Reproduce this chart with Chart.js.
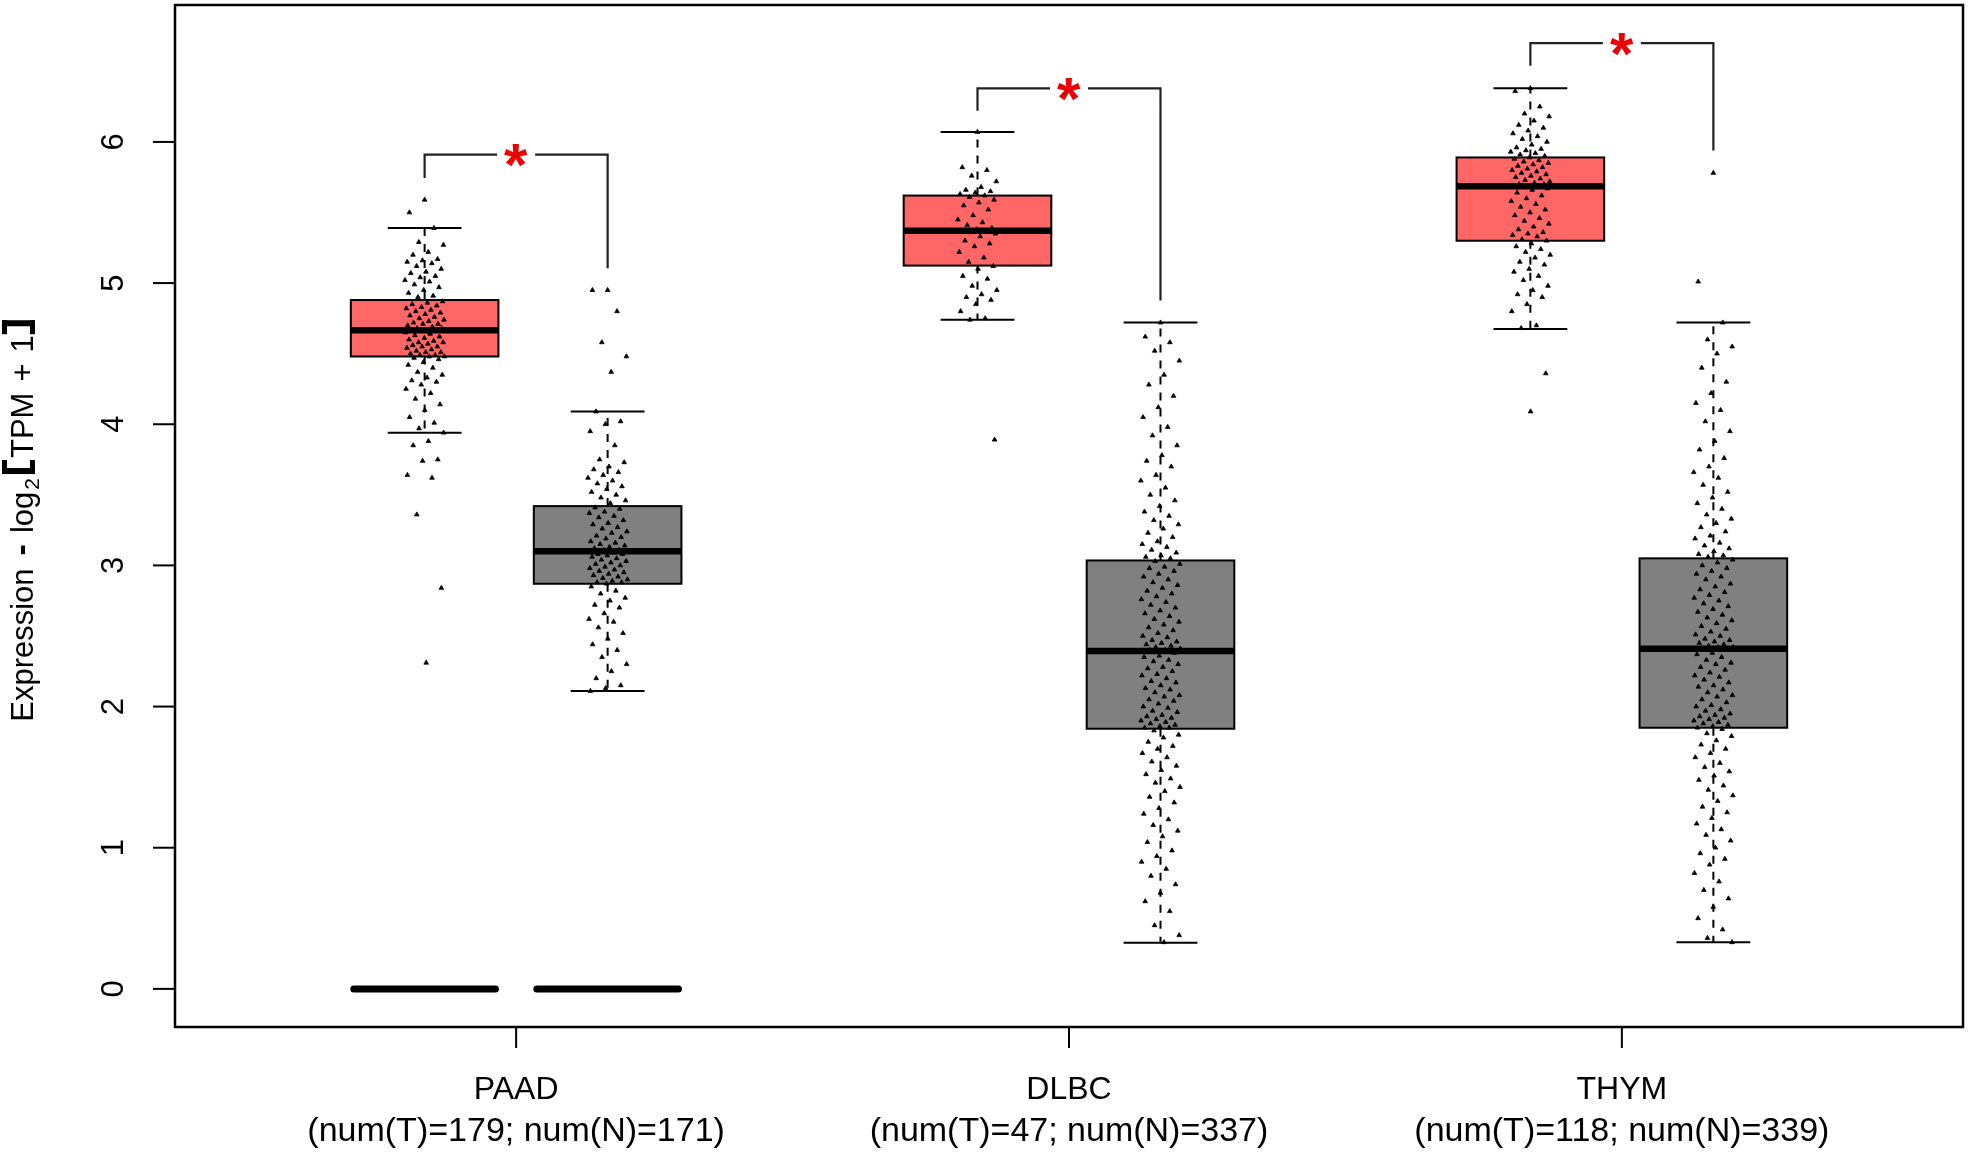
<!DOCTYPE html>
<html>
<head>
<meta charset="utf-8">
<script src="https://cdn.jsdelivr.net/npm/chart.js@4.4.1/dist/chart.umd.min.js"></script>
<style>
  html, body { margin: 0; padding: 0; background: #fff; }
  canvas { display: block; }
</style>
</head>
<body>
<canvas id="boxChart" width="1969" height="1154"></canvas>
<script>
// categories and sample sizes
const cancers = ['PAAD', 'DLBC', 'THYM'];
const numT = [179, 47, 118];
const numN = [171, 337, 339];

// box stats: [lower whisker, Q1, median, Q3, upper whisker]
const tumorStats = [
    [3.94, 4.48, 4.665, 4.88, 5.39],
    [4.74, 5.124, 5.37, 5.62, 6.07],
    [4.675, 5.30, 5.686, 5.89, 6.38],
];
const normalStats = [
    [2.11, 2.87, 3.10, 3.42, 4.09],
    [0.327, 1.843, 2.394, 3.035, 4.72],
    [0.33, 1.85, 2.41, 3.05, 4.72],
];

// the flat boxes sitting at 0 under PAAD
const zeroT = [0, null, null];
const zeroN = [0, null, null];

// significance brackets (y values)
const bracketTop = [5.91, 6.38, 6.70];
const bracketLegT = [5.745, 6.22, 6.54];
const bracketLegN = [5.105, 4.876, 5.94];

const yTicks = [0, 1, 2, 3, 4, 5, 6];

// jittered sample points
const paadT = [5.59, 5.50, 5.39, 5.29, 5.27, 5.22, 5.20, 5.17, 5.16, 5.15, 5.14, 5.12, 5.10, 5.08, 5.07, 5.05, 5.04, 5.02, 5.01, 4.99, 4.97, 4.95, 4.93, 4.91, 4.90,
    4.87, 4.86, 4.85, 4.84, 4.83, 4.82, 4.81, 4.80, 4.79, 4.78, 4.77, 4.76, 4.75, 4.74, 4.73, 4.72, 4.71, 4.71, 4.70, 4.69, 4.68, 4.68, 4.67, 4.67, 4.66,
    4.66, 4.65, 4.64, 4.63, 4.62, 4.61, 4.60, 4.59, 4.58, 4.58, 4.57, 4.56, 4.55, 4.55, 4.54, 4.53, 4.52, 4.51, 4.51, 4.50, 4.49, 4.49, 4.48, 4.48, 4.47,
    4.46, 4.44, 4.42, 4.40, 4.37, 4.35, 4.33, 4.31, 4.30, 4.28, 4.25, 4.22, 4.18, 4.14, 4.10, 4.05, 4.01, 3.97, 3.94, 3.88, 3.85, 3.75, 3.74, 3.64, 3.62, 3.36, 2.84, 2.31];
const paadN = [4.95, 4.95, 4.80, 4.58, 4.48, 4.37, 4.09, 4.02, 4.00, 3.95, 3.85, 3.75, 3.73, 3.70, 3.68, 3.66, 3.64, 3.62, 3.60, 3.58, 3.56, 3.54, 3.52, 3.50, 3.48, 3.46, 3.44,
    3.41, 3.40, 3.38, 3.37, 3.35, 3.34, 3.32, 3.30, 3.29, 3.27, 3.26, 3.24, 3.23, 3.21, 3.20, 3.19, 3.17, 3.16, 3.15, 3.14, 3.13, 3.12, 3.11, 3.11, 3.10,
    3.09, 3.08, 3.08, 3.07, 3.06, 3.05, 3.04, 3.03, 3.02, 3.01, 3.00, 2.99, 2.98, 2.97, 2.96, 2.95, 2.94, 2.93, 2.92, 2.91, 2.90, 2.89, 2.88, 2.88, 2.87,
    2.85, 2.82, 2.80, 2.77, 2.75, 2.72, 2.70, 2.66, 2.62, 2.60, 2.56, 2.52, 2.48, 2.44, 2.40, 2.35, 2.30, 2.25, 2.20, 2.15, 2.13, 2.11];
const dlbcT = [6.07, 5.82, 5.80, 5.76, 5.72, 5.68, 5.66, 5.65, 5.64, 5.63, 5.62, 5.61, 5.59, 5.57, 5.55, 5.52, 5.48, 5.45, 5.43, 5.41, 5.39, 5.38, 5.37, 5.37,
    5.36, 5.35, 5.33, 5.30, 5.28, 5.26, 5.22, 5.18, 5.15, 5.12, 5.10, 5.05, 5.03, 4.98, 4.95, 4.92, 4.90, 4.88, 4.85, 4.80, 4.75, 4.74, 3.89];
const dlbcN = [4.72, 4.62, 4.58, 4.52, 4.45, 4.35, 4.28, 4.20, 4.12, 4.05, 3.98, 3.92, 3.85, 3.78, 3.74, 3.70, 3.64, 3.60, 3.55, 3.50, 3.46, 3.42, 3.38, 3.35, 3.32, 3.29, 3.26, 3.23, 3.20, 3.17, 3.15, 3.13, 3.11, 3.09, 3.07, 3.06, 3.05,
    3.03, 3.01, 2.99, 2.98, 2.96, 2.94, 2.92, 2.90, 2.88, 2.86, 2.84, 2.82, 2.80, 2.78, 2.76, 2.74, 2.72, 2.70, 2.68, 2.66, 2.64, 2.62, 2.60, 2.58, 2.56, 2.54, 2.52, 2.50, 2.49, 2.47, 2.46, 2.45, 2.44, 2.43, 2.42, 2.41, 2.40, 2.40,
    2.38, 2.36, 2.35, 2.33, 2.32, 2.30, 2.28, 2.27, 2.25, 2.23, 2.22, 2.20, 2.18, 2.17, 2.15, 2.13, 2.12, 2.10, 2.08, 2.07, 2.05, 2.04, 2.02, 2.00, 1.99, 1.97, 1.96, 1.94, 1.93, 1.92, 1.91, 1.90, 1.89, 1.88, 1.87, 1.86, 1.85, 1.85,
    1.83, 1.80, 1.78, 1.75, 1.72, 1.70, 1.67, 1.64, 1.61, 1.58, 1.55, 1.52, 1.49, 1.46, 1.43, 1.40, 1.36, 1.32, 1.28, 1.24, 1.20, 1.16, 1.12, 1.08, 1.04, 0.98, 0.94, 0.90, 0.85, 0.80, 0.74, 0.68, 0.62, 0.55, 0.45, 0.38, 0.33];
const thymT = [6.38, 6.36, 6.25, 6.20, 6.18, 6.15, 6.12, 6.10, 6.08, 6.06, 6.04, 6.02, 6.00, 5.98, 5.96, 5.95, 5.94, 5.93, 5.92, 5.91, 5.90, 5.89,
    5.88, 5.87, 5.86, 5.85, 5.84, 5.83, 5.82, 5.81, 5.80, 5.79, 5.78, 5.77, 5.76, 5.75, 5.74, 5.73, 5.72, 5.71, 5.70, 5.70, 5.69, 5.69, 5.69,
    5.68, 5.67, 5.66, 5.64, 5.62, 5.60, 5.58, 5.56, 5.54, 5.52, 5.50, 5.48, 5.46, 5.44, 5.42, 5.40, 5.38, 5.36, 5.35, 5.34, 5.33, 5.31, 5.30,
    5.28, 5.26, 5.24, 5.22, 5.20, 5.18, 5.15, 5.13, 5.10, 5.08, 5.05, 5.02, 4.98, 4.95, 4.92, 4.90, 4.85, 4.80, 4.70, 4.68, 4.36, 4.09];
const thymN = [5.78, 5.01, 4.72, 4.60, 4.55, 4.50, 4.40, 4.30, 4.22, 4.15, 4.10, 4.02, 3.95, 3.88, 3.82, 3.76, 3.70, 3.66, 3.62, 3.57, 3.52, 3.48, 3.44, 3.40, 3.36, 3.33, 3.30, 3.27, 3.24, 3.21, 3.19, 3.16, 3.14, 3.12, 3.10, 3.08, 3.07, 3.06,
    3.04, 3.02, 3.00, 2.98, 2.96, 2.94, 2.92, 2.90, 2.87, 2.85, 2.83, 2.81, 2.79, 2.77, 2.75, 2.73, 2.71, 2.69, 2.67, 2.65, 2.63, 2.61, 2.59, 2.57, 2.55, 2.53, 2.51, 2.50, 2.48, 2.47, 2.46, 2.45, 2.44, 2.43, 2.42, 2.42, 2.41,
    2.40, 2.38, 2.37, 2.35, 2.33, 2.31, 2.30, 2.28, 2.26, 2.24, 2.22, 2.21, 2.19, 2.17, 2.15, 2.14, 2.12, 2.10, 2.08, 2.07, 2.05, 2.03, 2.01, 2.00, 1.98, 1.97, 1.95, 1.94, 1.93, 1.92, 1.91, 1.90, 1.89, 1.88, 1.87, 1.86, 1.85,
    1.84, 1.81, 1.79, 1.76, 1.73, 1.70, 1.67, 1.64, 1.60, 1.57, 1.54, 1.51, 1.48, 1.44, 1.41, 1.37, 1.33, 1.29, 1.25, 1.21, 1.17, 1.13, 1.09, 1.05, 1.00, 0.96, 0.92, 0.88, 0.82, 0.76, 0.70, 0.64, 0.58, 0.50, 0.42, 0.36, 0.33];

const tumorPoints = [paadT, dlbcT, thymT];
const normalPoints = [paadN, dlbcN, thymN];

// layout in x units (groups sit at 1, 2, 3)
const OFFSET = 0.1655;
const BOX_W = 0.267;
const JIT = 0.036;
const FONT = '"Liberation Sans", Arial, Helvetica, sans-serif';
const TUMOR_COL = '#FF6666';
const NORMAL_COL = '#808080';

// spread points sideways without random numbers
function jitter(i) {
    return (((i * 0.6180339887 + 0.5) % 1) - 0.5) * 2 * JIT;
}

function toPoints(values, center) {
    return values.map((v, i) => ({ x: center + jitter(i), y: v }));
}

const datasets = [];
cancers.forEach((name, g) => {
    const c = g + 1;
    [[tumorPoints[g], c - OFFSET], [normalPoints[g], c + OFFSET]].forEach(([vals, pos]) => {
        datasets.push({
            data: toPoints(vals, pos),
            pointStyle: 'triangle',
            pointRadius: 2.7,
            pointBorderWidth: 0.8,
            pointBackgroundColor: '#000',
            pointBorderColor: '#000',
            showLine: false,
        });
    });
});

function drawBox(ctx, px, py, center, s, fill) {
    const left = px(center - BOX_W / 2), right = px(center + BOX_W / 2);
    const capL = px(center - BOX_W / 4), capR = px(center + BOX_W / 4);
    const cx = px(center);
    ctx.save();
    ctx.strokeStyle = '#000';
    ctx.lineWidth = 2;
    // dashed whiskers
    ctx.setLineDash([8, 8]);
    ctx.beginPath();
    ctx.moveTo(cx, py(s[3])); ctx.lineTo(cx, py(s[4]));
    ctx.moveTo(cx, py(s[1])); ctx.lineTo(cx, py(s[0]));
    ctx.stroke();
    ctx.setLineDash([]);
    // caps
    ctx.beginPath();
    ctx.moveTo(capL, py(s[4])); ctx.lineTo(capR, py(s[4]));
    ctx.moveTo(capL, py(s[0])); ctx.lineTo(capR, py(s[0]));
    ctx.stroke();
    // box
    ctx.fillStyle = fill;
    ctx.fillRect(left, py(s[3]), right - left, py(s[1]) - py(s[3]));
    ctx.strokeRect(left, py(s[3]), right - left, py(s[1]) - py(s[3]));
    // median
    ctx.lineWidth = 6.5;
    ctx.beginPath();
    ctx.moveTo(left, py(s[2])); ctx.lineTo(right, py(s[2]));
    ctx.stroke();
    ctx.restore();
}

function drawZero(ctx, px, py, center, v) {
    if (v === null) return;
    ctx.save();
    ctx.strokeStyle = '#000';
    ctx.lineWidth = 7;
    ctx.lineCap = 'round';
    ctx.beginPath();
    ctx.moveTo(px(center - BOX_W / 2) + 3, py(v));
    ctx.lineTo(px(center + BOX_W / 2) - 3, py(v));
    ctx.stroke();
    ctx.restore();
}

// plotmath-like title: Expression - log2[TPM + 1] with heavy brackets
function drawYTitle(ctx, midY) {
    const reg = '31px ' + FONT, sub = '21px ' + FONT, dash = 'bold 34px ' + FONT;
    const parts = [
        ['Expression', reg, 0, 13],
        ['-', dash, -1, 11],
        ['log', reg, 0, 2],
        ['2', sub, 6, 4],
        ['[', null, 0, 2],
        ['TPM', reg, 0, 11],
        ['+', reg, 0, 11],
        ['1', reg, 0, 1],
        [']', null, 0, 0],
    ];
    const BR_W = 14;
    const width = p => {
        if (!p[1]) return BR_W;
        ctx.font = p[1];
        return ctx.measureText(p[0]).width;
    };
    let total = 0;
    parts.forEach(p => { total += width(p) + p[3]; });
    ctx.save();
    ctx.translate(33, midY + total / 2);
    ctx.rotate(-Math.PI / 2);
    ctx.fillStyle = '#000';
    ctx.textAlign = 'left';
    ctx.textBaseline = 'alphabetic';
    let pos = 0;
    parts.forEach(p => {
        const w = width(p);
        if (!p[1]) {
            // heavy square bracket
            const top = -31, h = 33, bar = 6, arm = 5;
            if (p[0] === '[') {
                ctx.fillRect(pos, top, bar, h);
                ctx.fillRect(pos, top, w, arm);
                ctx.fillRect(pos, top + h - arm, w, arm);
            } else {
                ctx.fillRect(pos + w - bar, top, bar, h);
                ctx.fillRect(pos, top, w, arm);
                ctx.fillRect(pos, top + h - arm, w, arm);
            }
        } else {
            ctx.font = p[1];
            ctx.fillText(p[0], pos, p[2]);
        }
        pos += w + p[3];
    });
    ctx.restore();
}

function drawStar(ctx, cx, cy) {
    ctx.save();
    ctx.font = 'bold 60px ' + FONT;
    ctx.fillStyle = '#EE0000';
    ctx.textAlign = 'left';
    ctx.textBaseline = 'alphabetic';
    const m = ctx.measureText('*');
    const x0 = cx - (m.actualBoundingBoxRight - m.actualBoundingBoxLeft) / 2;
    const y0 = cy - (m.actualBoundingBoxDescent - m.actualBoundingBoxAscent) / 2;
    ctx.fillText('*', x0, y0);
    ctx.restore();
}

const rBoxPlot = {
    id: 'rBoxPlot',
    beforeDatasetsDraw(chart) {
        const ctx = chart.ctx;
        const px = v => chart.scales.x.getPixelForValue(v);
        const py = v => chart.scales.y.getPixelForValue(v);
        cancers.forEach((name, g) => {
            const c = g + 1;
            drawBox(ctx, px, py, c - OFFSET, tumorStats[g], TUMOR_COL);
            drawBox(ctx, px, py, c + OFFSET, normalStats[g], NORMAL_COL);
            drawZero(ctx, px, py, c - OFFSET, zeroT[g]);
            drawZero(ctx, px, py, c + OFFSET, zeroN[g]);
        });
    },
    afterDatasetsDraw(chart) {
        const ctx = chart.ctx;
        const area = chart.chartArea;
        const px = v => chart.scales.x.getPixelForValue(v);
        const py = v => chart.scales.y.getPixelForValue(v);
        ctx.save();
        // frame
        ctx.strokeStyle = '#000';
        ctx.lineWidth = 2.5;
        ctx.strokeRect(area.left, area.top, area.right - area.left, area.bottom - area.top);

        // y axis ticks + rotated labels
        ctx.lineWidth = 2;
        ctx.fillStyle = '#000';
        yTicks.forEach(t => {
            const y = py(t);
            ctx.beginPath();
            ctx.moveTo(area.left - 22, y); ctx.lineTo(area.left, y);
            ctx.stroke();
            ctx.save();
            ctx.translate(area.left - 61, y);
            ctx.rotate(-Math.PI / 2);
            ctx.font = '31px ' + FONT;
            ctx.textAlign = 'center';
            ctx.textBaseline = 'middle';
            ctx.fillText(String(t), 0, 0);
            ctx.restore();
        });

        // x axis ticks + labels
        ctx.textAlign = 'center';
        ctx.textBaseline = 'middle';
        cancers.forEach((name, g) => {
            const x = px(g + 1);
            ctx.beginPath();
            ctx.moveTo(x, area.bottom); ctx.lineTo(x, area.bottom + 21);
            ctx.stroke();
            ctx.font = '32px ' + FONT;
            ctx.fillText(name, x, 1090);
            ctx.font = '34px ' + FONT;
            ctx.fillText('(num(T)=' + numT[g] + '; num(N)=' + numN[g] + ')', x, 1132);
        });

        // brackets with stars
        ctx.strokeStyle = '#222';
        ctx.lineWidth = 2.2;
        cancers.forEach((name, g) => {
            const c = g + 1;
            const xT = px(c - OFFSET), xN = px(c + OFFSET), xm = px(c);
            const top = py(bracketTop[g]);
            ctx.beginPath();
            ctx.moveTo(xT, py(bracketLegT[g])); ctx.lineTo(xT, top); ctx.lineTo(xm - 19, top);
            ctx.moveTo(xm + 19, top); ctx.lineTo(xN, top); ctx.lineTo(xN, py(bracketLegN[g]));
            ctx.stroke();
            drawStar(ctx, xm, top + 1);
        });
        ctx.restore();

        drawYTitle(ctx, (area.top + area.bottom) / 2 + 5);
    }
};

new Chart(document.getElementById('boxChart').getContext('2d'), {
    type: 'scatter',
    data: { datasets: datasets },
    options: {
        responsive: false,
        devicePixelRatio: 1,
        animation: false,
        events: [],
        layout: { padding: { left: 175, right: 6, top: 5, bottom: 127 } },
        plugins: { legend: { display: false }, tooltip: { enabled: false } },
        scales: {
            x: { type: 'linear', min: 0.383, max: 3.617, display: false },
            y: { type: 'linear', min: -0.27, max: 6.97, display: false },
        },
    },
    plugins: [rBoxPlot],
});
</script>
</body>
</html>
